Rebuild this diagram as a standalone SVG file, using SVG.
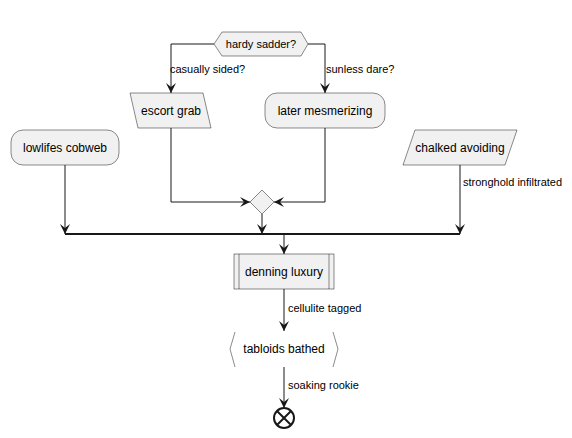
<svg xmlns="http://www.w3.org/2000/svg" width="572" height="438" viewBox="0 0 572 438">
<style>
.node{fill:#F1F1F1;stroke:#181818;stroke-width:0.5}
.t{font-family:"Liberation Sans",Arial,sans-serif;font-size:12px;fill:#000;text-anchor:middle}
.s{font-family:"Liberation Sans",Arial,sans-serif;font-size:11px;fill:#000}
.c{fill:none;stroke:#181818;stroke-width:1}
</style>
<defs>
<marker id="arr" viewBox="0 0 10 10" refX="10" refY="5" markerWidth="10" markerHeight="10" orient="auto" markerUnits="userSpaceOnUse">
<path d="M0,0 L10,5 L0,10 L4,5 Z" fill="#181818"/>
</marker>
</defs>
<rect width="572" height="438" fill="#FFFFFF"/>
<g id="connectors">
<path class="c" d="M214,44 H171 V93" marker-end="url(#arr)"/>
<path class="c" d="M308,44 H325 V93" marker-end="url(#arr)"/>
<path class="c" d="M171,128 V202 H250" marker-end="url(#arr)"/>
<path class="c" d="M325,128 V202 H274" marker-end="url(#arr)"/>
<path class="c" d="M65,165 V234" marker-end="url(#arr)"/>
<path class="c" d="M262,214 V234" marker-end="url(#arr)"/>
<path class="c" d="M460,165 V234" marker-end="url(#arr)"/>
<path class="c" d="M284,234 V254" marker-end="url(#arr)"/>
<path class="c" d="M284,289 V331" marker-end="url(#arr)"/>
<path class="c" d="M284,367 V408" marker-end="url(#arr)"/>
<text class="s" x="170" y="73">casually sided?</text>
<text class="s" x="326" y="73">sunless dare?</text>
<text class="s" x="463" y="186">stronghold infiltrated</text>
<text class="s" x="288" y="312">cellulite tagged</text>
<text class="s" x="288" y="389">soaking rookie</text>
</g>
<g id="hardy-sadder">
<polygon class="node" points="214,44 222,32 301,32 308,44 301,56 222,56"/>
<text class="s" x="261" y="48" text-anchor="middle">hardy sadder?</text>
</g>
<g id="escort-grab">
<polygon class="node" points="130,93 203,93 211,128 138,128"/>
<text class="t" x="171" y="115">escort grab</text>
</g>
<g id="later-mesmerizing">
<rect class="node" x="265" y="93" width="120" height="35" rx="12"/>
<text class="t" x="325" y="115">later mesmerizing</text>
</g>
<g id="lowlifes-cobweb">
<rect class="node" x="11" y="130" width="108" height="35" rx="12"/>
<text class="t" x="65" y="152">lowlifes cobweb</text>
</g>
<g id="chalked-avoiding">
<polygon class="node" points="415,130 517,130 505,165 403,165"/>
<text class="t" x="460" y="152">chalked avoiding</text>
</g>
<g id="merge">
<polygon class="node" points="262,190 274,202 262,214 250,202"/>
</g>
<g id="join-bar">
<rect x="65" y="233" width="395" height="2" fill="#181818"/>
</g>
<g id="denning-luxury">
<rect class="node" x="234" y="254" width="100" height="35"/>
<line x1="239" y1="254" x2="239" y2="289" stroke="#181818" stroke-width="0.5"/>
<line x1="329" y1="254" x2="329" y2="289" stroke="#181818" stroke-width="0.5"/>
<text class="t" x="284" y="276">denning luxury</text>
</g>
<g id="tabloids-bathed">
<polyline points="235,332 230,349 235,367" fill="none" stroke="#181818" stroke-width="0.5"/>
<polyline points="333,332 338,349 333,367" fill="none" stroke="#181818" stroke-width="0.5"/>
<text class="t" x="284" y="353">tabloids bathed</text>
</g>
<g id="end">
<circle cx="284" cy="418" r="10" fill="none" stroke="#181818" stroke-width="2"/>
<line x1="277" y1="411" x2="291" y2="425" stroke="#181818" stroke-width="2"/>
<line x1="291" y1="411" x2="277" y2="425" stroke="#181818" stroke-width="2"/>
</g>
</svg>
